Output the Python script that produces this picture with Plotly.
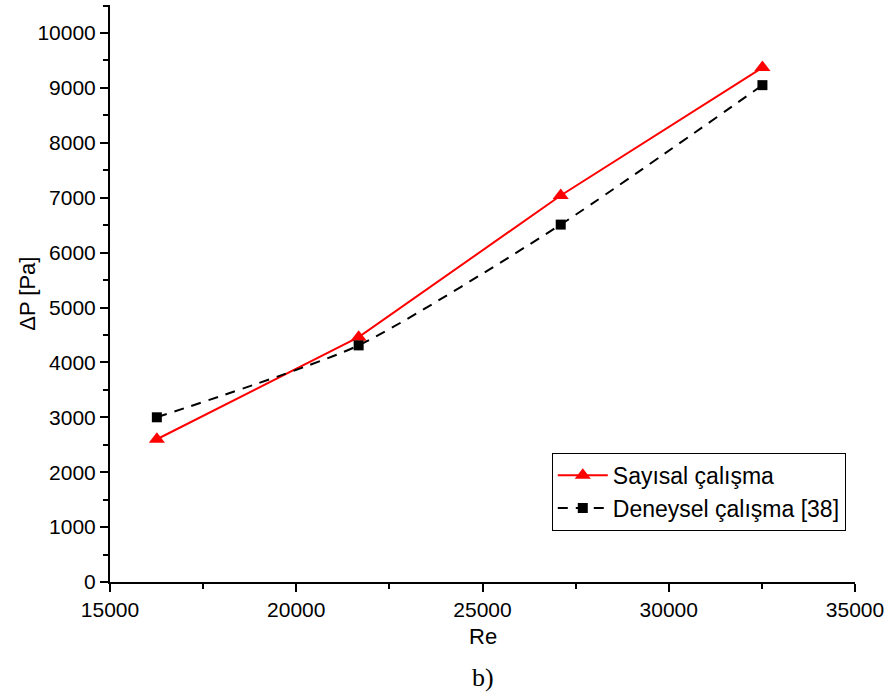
import plotly.graph_objects as go

re_vals = [16258, 21675, 27100, 32515]
sayisal = [2600, 4460, 7040, 9370]
deneysel = [3000, 4310, 6510, 9050]
x_ticks = [15000, 20000, 25000, 30000, 35000]
y_ticks = [0, 1000, 2000, 3000, 4000, 5000, 6000, 7000, 8000, 9000, 10000]

fig = go.Figure()
fig.add_trace(go.Scatter(
    x=re_vals, y=sayisal, mode="lines+markers", name="Sayısal çalışma",
    line=dict(color="#ff0000", width=2),
    marker=dict(symbol="triangle-up", size=14, color="#ff0000"),
))
fig.add_trace(go.Scatter(
    x=re_vals, y=deneysel, mode="lines+markers", name="Deneysel çalışma [38]",
    line=dict(color="black", width=2, dash="10px,8px", shape="spline", smoothing=0.6),
    marker=dict(symbol="square", size=10, color="black"),
))

axis_common = dict(
    showline=True, linecolor="black", linewidth=2, mirror=False,
    ticks="outside", ticklen=8, tickwidth=2, tickcolor="black",
    showgrid=False, zeroline=False,
    tickfont=dict(family="Liberation Sans, Arial", size=21, color="black"),
)

fig.update_xaxes(
    range=[15000, 35000], tickvals=x_ticks, ticktext=[str(v) for v in x_ticks],
    minor=dict(ticks="outside", ticklen=5, tickwidth=2, tickcolor="black", dtick=2500, tick0=15000),
    **axis_common,
)
fig.update_yaxes(
    range=[0, 10510], tickvals=y_ticks, ticktext=[str(v) for v in y_ticks],
    minor=dict(ticks="outside", ticklen=5, tickwidth=2, tickcolor="black", dtick=500, tick0=0),
    **axis_common,
)

fig.add_annotation(
    text="Re", xref="paper", yref="paper", x=0.5, y=-0.0953,
    showarrow=False, yanchor="middle", xanchor="center",
    font=dict(family="Liberation Sans, Arial", size=22, color="black"),
)
fig.add_annotation(
    text="ΔP [Pa]", xref="paper", yref="paper", x=-0.111, y=0.5,
    showarrow=False, yanchor="middle", xanchor="center", textangle=-90,
    font=dict(family="Liberation Sans, Arial", size=22, color="black"),
)
fig.add_annotation(
    text="b)", xref="paper", yref="paper", x=0.5, y=-0.166,
    showarrow=False, yanchor="middle", xanchor="center",
    font=dict(family="Liberation Serif, Times New Roman", size=26, color="black"),
)

fig.update_layout(
    width=889, height=700,
    margin=dict(l=110, r=32, t=5, b=118),
    plot_bgcolor="white", paper_bgcolor="white",
    showlegend=True,
    legend=dict(
        x=0.593, y=0.2240, xanchor="left", yanchor="top",
        bordercolor="black", borderwidth=1, bgcolor="white",
        font=dict(family="Liberation Sans, Arial", size=23, color="black"),
        itemwidth=50, tracegroupgap=0,
    ),
)

fig.write_html(
    "out.html",
    config={"displayModeBar": False},
    post_script="document.body.style.margin='0';document.body.style.overflow='hidden';",
)
